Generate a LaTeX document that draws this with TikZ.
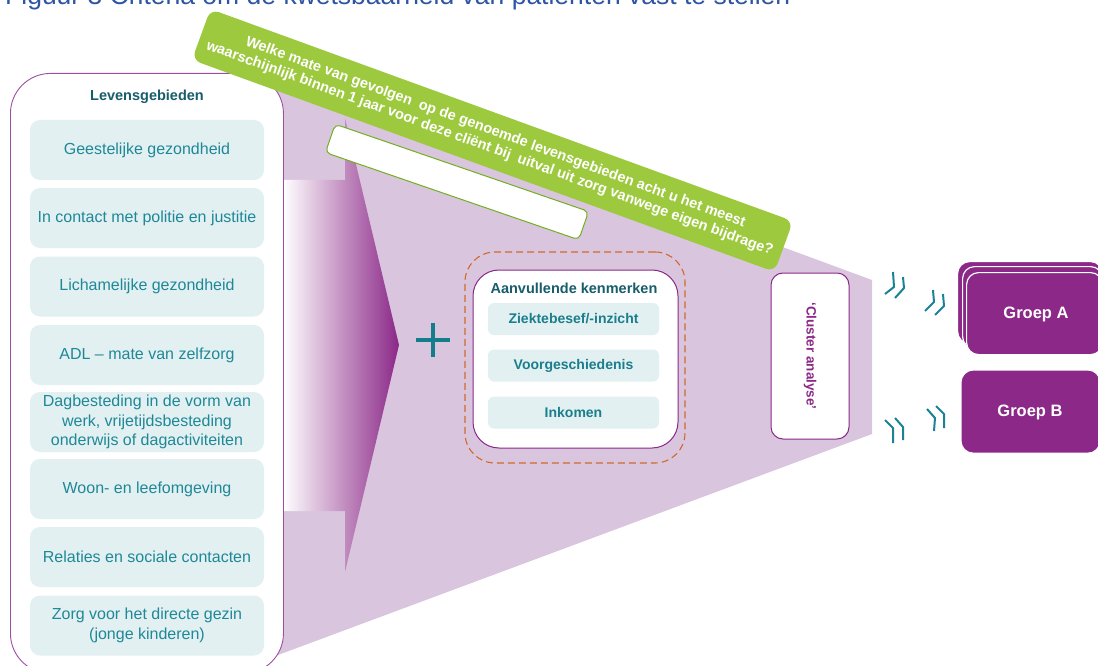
\documentclass[tikz,border=0pt]{standalone}
\usepackage{fontspec}
\setmainfont{Liberation Sans}
\definecolor{funnel}{HTML}{D9C6DE}
\definecolor{plum}{HTML}{8B2888}
\definecolor{leaf}{HTML}{9DC93F}
\definecolor{leafdark}{HTML}{72AE1F}
\definecolor{lifeteal}{HTML}{1F8897}
\definecolor{boldteal}{HTML}{1A7E8B}
\definecolor{darkteal}{HTML}{175D6B}
\definecolor{paleteal}{HTML}{E2F0F2}
\definecolor{rust}{HTML}{D06A2C}
\definecolor{titleblue}{HTML}{2D55A4}
\definecolor{panelline}{HTML}{9B4FA1}
\definecolor{plusteal}{HTML}{137D8A}
\definecolor{tickteal}{HTML}{1A8294}
\begin{document}
\begin{tikzpicture}[x=1pt,y=-1pt,
  lifebox/.style={fill=paleteal, rounded corners=10pt, minimum width=234pt, minimum height=60pt, inner sep=0pt, text=lifeteal, align=center, font=\fontsize{16}{19.5}\selectfont},
  extrabox/.style={fill=paleteal, rounded corners=6pt, minimum width=171pt, minimum height=32pt, inner sep=0pt, text=boldteal, font=\bfseries\fontsize{14}{17}\selectfont},
  groupbox/.style={fill=plum, draw=white, line width=1.2pt, rounded corners=12pt, minimum height=82pt, anchor=north west, inner sep=0pt},
  grouplabel/.style={text=white, font=\bfseries\fontsize{16.5}{20}\selectfont},
  tick/.style={draw=tickteal, line width=2pt},
  headtext/.style={text=darkteal, font=\bfseries\fontsize{14.5}{17}\selectfont}
]
\useasboundingbox (0,0) rectangle (1098,666);

% funnel
\fill[funnel] (270,58) -- (872,280) -- (872,434) -- (270,658) -- cycle;
% gradient chevron
\shade[left color=white, right color=plum] (283,180) -- (345,180) -- (345,118) -- (399,345) -- (345,572) -- (345,511) -- (283,511) -- cycle;

% left panel
\node[draw=panelline, fill=white, line width=0.9pt, rounded corners=40pt, minimum width=273pt, minimum height=600pt, anchor=north west, inner sep=0pt] (panel) at (10,73) {};
\node[headtext] (head) at (147,97) {Levensgebieden};
\node[lifebox] (l1) at (147,150) {Geestelijke gezondheid};
\node[lifebox] (l2) at (147,218) {In contact met politie en justitie};
\node[lifebox] (l3) at (147,286.5) {Lichamelijke gezondheid};
\node[lifebox] (l4) at (147,355) {ADL – mate van zelfzorg};
\node[lifebox] (l5) at (147,422) {Dagbesteding in de vorm van\\werk, vrijetijdsbesteding\\onderwijs of dagactiviteiten};
\node[lifebox] (l6) at (147,489) {Woon- en leefomgeving};
\node[lifebox] (l7) at (147,557) {Relaties en sociale contacten};
\node[lifebox] (l8) at (147,625.5) {Zorg voor het directe gezin\\(jonge kinderen)};

% answer box and banner
\node[draw=leafdark, fill=white, line width=1pt, rounded corners=5pt, rotate=-19, minimum width=268pt, minimum height=30pt] (answer) at (457,182) {};
\node[fill=leaf, rounded corners=9pt, rotate=-20, minimum width=620pt, minimum height=54pt, inner sep=0pt, text=white, align=center, font=\bfseries\fontsize{14.5}{17}\selectfont] (banner) at (492.5,140.5) {Welke mate van gevolgen\ \ op de genoemde levensgebieden acht u het meest\\waarschijnlijk binnen 1 jaar voor deze cliënt bij\ \ uitval uit zorg vanwege eigen bijdrage?};

% plus
\coordinate (plus) at (433,340);
\draw[plusteal, line width=4.5pt] ([xshift=-17pt]plus) -- ([xshift=17pt]plus) ([yshift=17pt]plus) -- ([yshift=-17pt]plus);

% extra characteristics
\node[draw=rust, dash pattern=on 7pt off 4pt, line width=1.1pt, rounded corners=30pt, minimum width=220pt, minimum height=211pt, inner sep=0pt] (extras) at (575,357.5) {};
\node[draw=plum, fill=white, line width=1pt, rounded corners=26pt, minimum width=205pt, minimum height=178pt, inner sep=0pt] (inner) at (575.5,359) {};
\node[headtext] (exhead) at (574,288) {Aanvullende kenmerken};
\node[extrabox] (e1) at (573.5,319) {Ziektebesef/-inzicht};
\node[extrabox] (e2) at (573.5,365.5) {Voorgeschiedenis};
\node[extrabox] (e3) at (573.5,412.5) {Inkomen};

% cluster
\node[draw=plum, fill=white, line width=1pt, rounded corners=12pt, rotate=-90, minimum width=166pt, minimum height=78pt, inner sep=0pt, text=plum, font=\bfseries\fontsize{13.5}{16}\selectfont] (cluster) at (810,356) {‘Cluster analyse’};

% ticks
\draw[tick] (893,272) -- (894,287) -- (885,294);
\draw[tick] (903,277) -- (904,288) -- (895,298);
\draw[tick] (933,290) -- (934,302) -- (925,311);
\draw[tick] (943,294) -- (944,306) -- (935,315);
\draw[tick] (885,420) -- (893,428) -- (893,443);
\draw[tick] (895,418) -- (903,427) -- (903,440);
\draw[tick] (927,409) -- (935,418) -- (934,431);
\draw[tick] (936,406) -- (944,414) -- (944,428);

% groups
\node[groupbox, minimum width=145pt] (ga3) at (957,261) {};
\node[groupbox, minimum width=140pt] (ga2) at (962,266) {};
\node[groupbox, minimum width=136pt] (ga1) at (966,272) {};
\node[grouplabel] (gat) at (1036,314) {Groep A};
\node[groupbox, minimum width=138pt, draw=none] (gb) at (961,370) {};
\node[grouplabel] (gbt) at (1030,412) {Groep B};

% title (cut at top)
\node[anchor=base west, inner sep=0pt, text=titleblue, font=\fontsize{26.5}{30}\selectfont] (title) at (5,5) {Figuur 3 Criteria om de kwetsbaarheid van patiënten vast te stellen};
\end{tikzpicture}
\end{document}
